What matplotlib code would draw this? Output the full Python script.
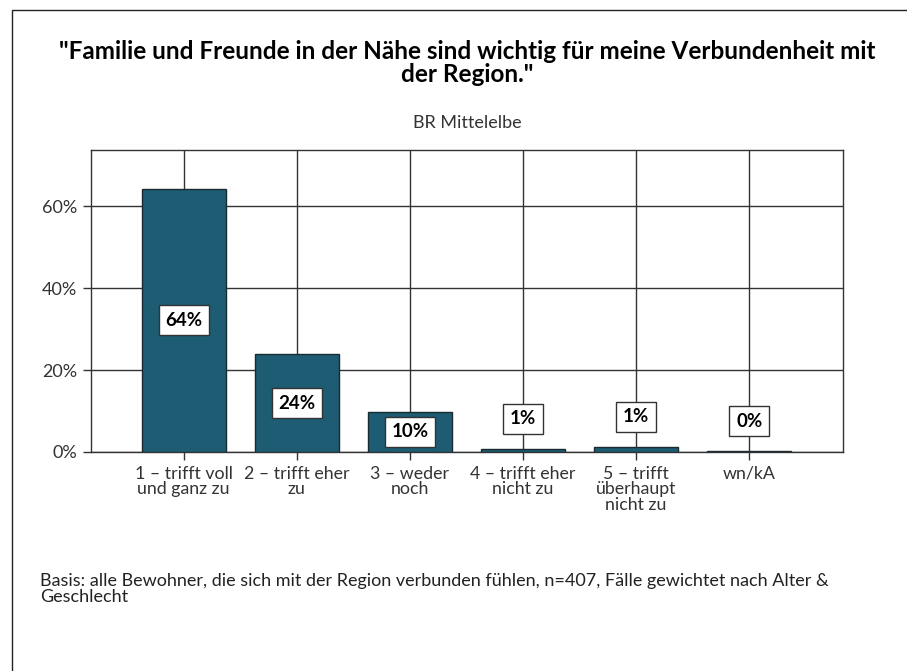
import numpy as np
import matplotlib
matplotlib.use('Agg')
import matplotlib.pyplot as plt
from matplotlib.patches import Rectangle

# Daten
kategorien = ['1 – trifft voll\nund ganz zu', '2 – trifft eher\nzu', '3 – weder\nnoch',
              '4 – trifft eher\nnicht zu', '5 – trifft\nüberhaupt\nnicht zu', 'wn/kA']
werte = [64.3, 23.9, 9.8, 0.8, 1.3, 0.2]
etiketten = ['64%', '24%', '10%', '1%', '1%', '0%']
y_ticks = [0, 20, 40, 60]
y_ticklabels = ['0%', '20%', '40%', '60%']

titel = '"Familie und Freunde in der Nähe sind wichtig für meine Verbundenheit mit\nder Region."'
untertitel = 'BR Mittelelbe'
fussnote = 'Basis: alle Bewohner, die sich mit der Region verbunden fühlen, n=407, Fälle gewichtet nach Alter &\nGeschlecht'

plt.rcParams['font.family'] = ['Lato', 'DejaVu Sans']

W, H = 907, 671
fig = plt.figure(figsize=(W/100, H/100), dpi=100)
ax = fig.add_axes([91/W, 1-452/H, (843-91)/W, (452-150)/H])

x = np.arange(len(werte))
ax.set_axisbelow(True)
ax.grid(True, color='#333333', linewidth=1)
ax.bar(x, werte, width=0.74, color='#1d5c73', edgecolor='#1a2a30', linewidth=1, zorder=3)

ax.set_xlim(-0.82, len(werte) - 1 + 0.83)
ax.set_ylim(0, 73.7)
ax.set_yticks(y_ticks)
ax.set_yticklabels(y_ticklabels, fontsize=13, color='#333333')
ax.set_xticks(x)
ax.set_xticklabels(kategorien, fontsize=12.8, color='#333333', linespacing=0.95)
ax.tick_params(axis='both', direction='out', length=6, color='#333333', width=1, pad=4)
for s in ax.spines.values():
    s.set_color('#333333')
    s.set_linewidth(1)

# Beschriftungen der Balken
for xi, v, t in zip(x, werte, etiketten):
    if v >= 5:
        yl = v / 2
    else:
        yl = v + 7.3
    ax.text(xi, yl, t, ha='center', va='center', fontsize=13.5, fontweight='bold', zorder=5,
            bbox=dict(boxstyle='square,pad=0.35', facecolor='white', edgecolor='#333333', linewidth=1))

fig.text(467/W, 1-63/H, titel, ha='center', va='center', fontsize=17.5, fontweight='bold',
         linespacing=0.95)
fig.text(467/W, 1-123/H, untertitel, ha='center', va='center', fontsize=13, color='#333333')
fig.text(40/W, 1-589/H, fussnote, ha='left', va='center', fontsize=13, color='#222222',
         linespacing=1.05)

# Rahmen um die Grafik
fig.patches.append(Rectangle((12/W, -0.01), 1.0, 1-10/H + 0.01, transform=fig.transFigure,
                             fill=False, edgecolor='#222222', linewidth=1))

fig.savefig('out.png', dpi=100)
